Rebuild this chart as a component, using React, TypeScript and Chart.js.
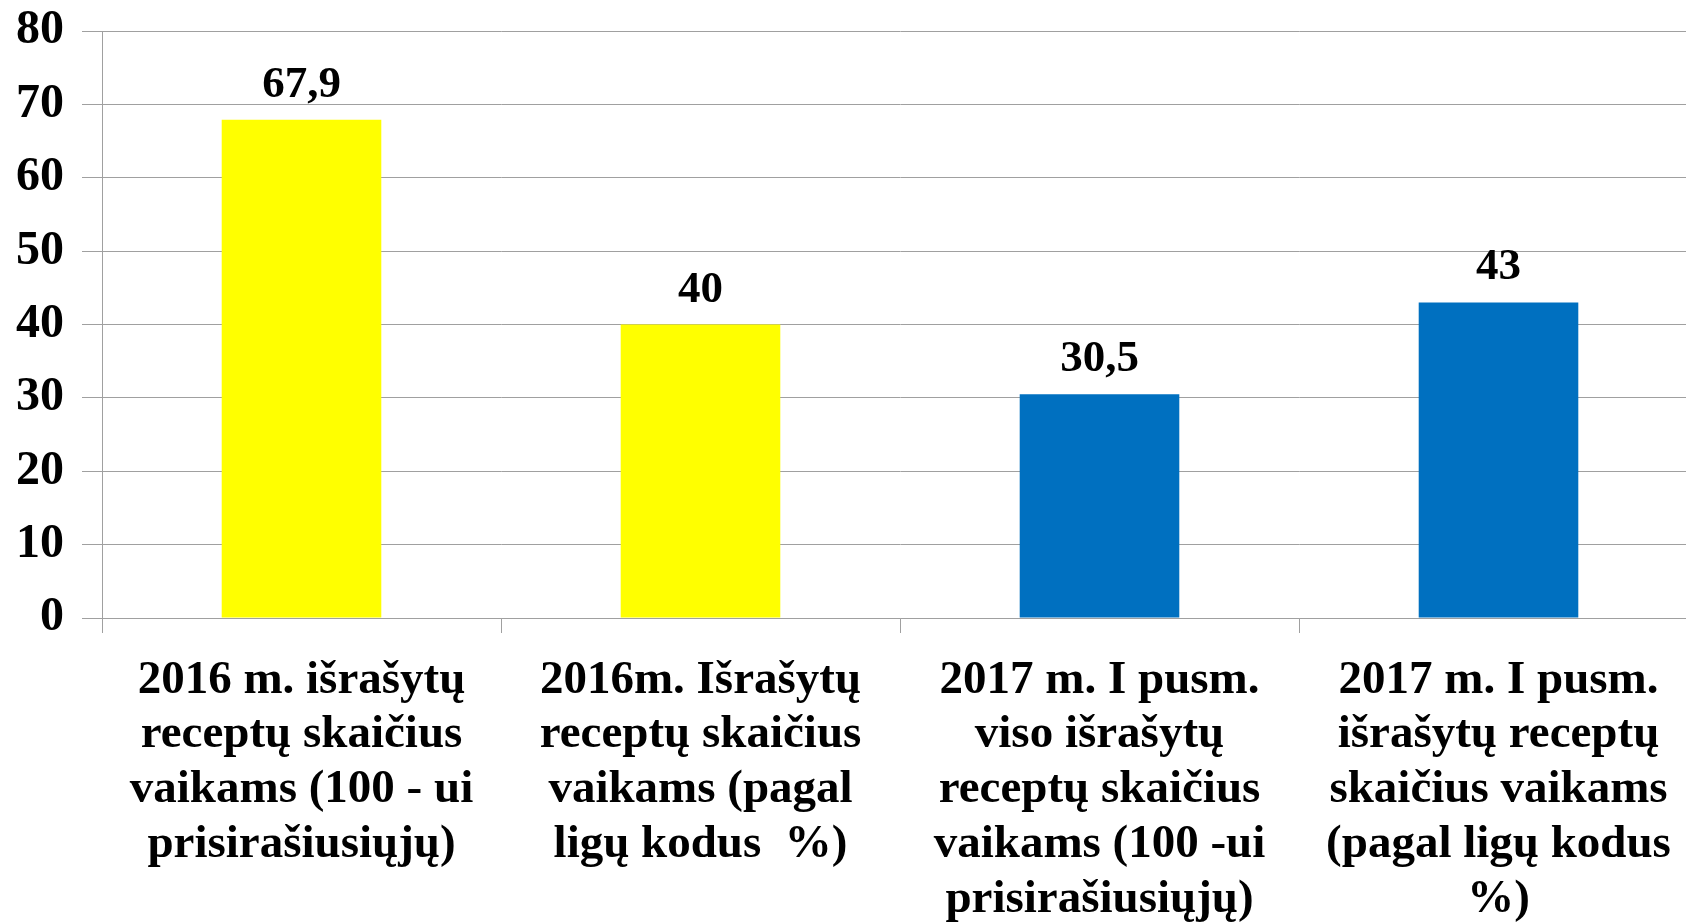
import React, { useEffect, useRef } from "react";
import { Chart, registerables } from "chart.js";

Chart.register(...registerables);

const categories: string[][] = [
  ["2016 m. išrašytų", "receptų skaičius", "vaikams (100 - ui", "prisirašiusiųjų)"],
  ["2016m. Išrašytų", "receptų skaičius", "vaikams (pagal", "ligų kodus  %)"],
  ["2017 m. I pusm.", "viso išrašytų", "receptų skaičius", "vaikams (100 -ui", "prisirašiusiųjų)"],
  ["2017 m. I pusm.", "išrašytų receptų", "skaičius vaikams", "(pagal ligų kodus", "%)"],
];
const values: number[] = [67.9, 40, 30.5, 43];
const valueLabels: string[] = ["67,9", "40", "30,5", "43"];
const barColors: string[] = ["#FFFF00", "#FFFF00", "#0070C0", "#0070C0"];
const yMin = 0;
const yMax = 80;
const yStep = 10;

const FONT = "'Liberation Serif', 'Times New Roman', serif";

const valueLabelPlugin = {
  id: "valueLabels",
  afterDatasetsDraw(chart: any) {
    const ctx = chart.ctx;
    const meta = chart.getDatasetMeta(0);
    ctx.save();
    ctx.font = `bold 45px ${FONT}`;
    ctx.fillStyle = "#000000";
    ctx.textAlign = "center";
    ctx.textBaseline = "alphabetic";
    meta.data.forEach((bar: any, i: number) => {
      ctx.fillText(valueLabels[i], bar.x, bar.y - 23);
    });
    ctx.restore();
  },
};

export default function App() {
  const ref = useRef<HTMLCanvasElement | null>(null);
  useEffect(() => {
    if (!ref.current) return;
    const chart = new Chart(ref.current, {
      type: "bar",
      data: {
        labels: categories,
        datasets: [
          {
            data: values,
            backgroundColor: barColors,
            borderWidth: 0,
            barPercentage: 0.8,
            categoryPercentage: 0.5,
          },
        ],
      },
      options: {
        animation: false,
        responsive: false,
        maintainAspectRatio: false,
        layout: { padding: { top: 31, right: 2, left: 0, bottom: 0 } },
        plugins: {
          legend: { display: false },
          tooltip: { enabled: false },
        },
        scales: {
          x: {
            grid: {
              offset: true,
              drawOnChartArea: false,
              drawTicks: true,
              tickLength: 15,
              color: "#A0A0A0",
              lineWidth: 1,
            },
            border: { display: true, color: "#A0A0A0", width: 1 },
            ticks: {
              color: "#000000",
              font: { family: FONT, size: 47, weight: "bold", lineHeight: 1.165 },
              padding: 20,
              maxRotation: 0,
              minRotation: 0,
              autoSkip: false,
            },
            afterFit: (scale: any) => {
              scale.height = 306;
              scale.paddingLeft = 0;
              scale.paddingRight = 0;
            },
          },
          y: {
            min: yMin,
            max: yMax,
            ticks: {
              stepSize: yStep,
              color: "#000000",
              font: { family: FONT, size: 48, weight: "bold" },
              padding: 18,
            },
            grid: {
              color: "#A0A0A0",
              lineWidth: 1,
              drawTicks: true,
              tickLength: 20,
            },
            border: { display: true, color: "#A0A0A0", width: 1 },
            afterFit: (scale: any) => {
              scale.width = 102;
              scale.paddingTop = 0;
              scale.paddingBottom = 0;
            },
          },
        },
      },
      plugins: [valueLabelPlugin],
    } as any);
    return () => chart.destroy();
  }, []);
  return (
    <div
      style={{
        position: "fixed",
        left: 0,
        top: 0,
        width: 1686,
        height: 924,
        overflow: "hidden",
        background: "#ffffff",
      }}
    >
      <canvas ref={ref} width={1700} height={924} style={{ display: "block", width: 1700, height: 924 }} />
    </div>
  );
}
